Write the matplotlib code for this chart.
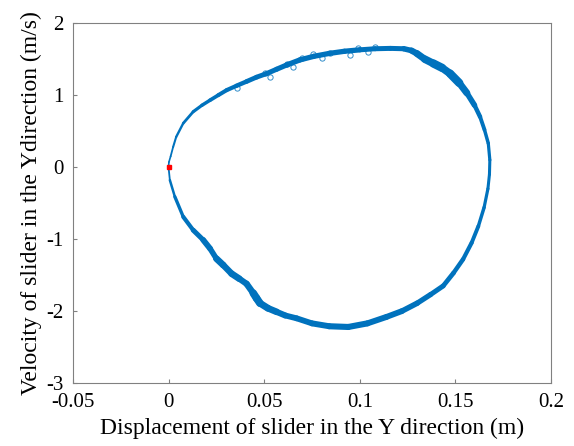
import numpy as np
import matplotlib.pyplot as plt
from matplotlib.collections import LineCollection

# Phase trajectory of the slider (Y displacement in m, Y velocity in m/s)
disp = [0.0, 0.0002, 0.0011, 0.0024, 0.0040, 0.0077, 0.0129, 0.0175, 0.0217, 0.0260,
        0.0304, 0.0355, 0.0408, 0.0460, 0.0513, 0.0565, 0.0618, 0.0687, 0.0760, 0.0840,
        0.0920, 0.1000, 0.1080, 0.1160, 0.1230, 0.1270, 0.1298, 0.1340, 0.1385, 0.1430,
        0.1472, 0.1520, 0.1560, 0.1600, 0.1629, 0.1652, 0.1672, 0.1680, 0.1678, 0.1670,
        0.1650, 0.1620, 0.1585, 0.1540, 0.1490, 0.1436, 0.1370, 0.1300, 0.1220, 0.1140,
        0.1040, 0.0940, 0.0840, 0.0750, 0.0670, 0.0610, 0.0565, 0.0520, 0.0478, 0.0460,
        0.0443, 0.0408, 0.0370, 0.0330, 0.0286, 0.0250, 0.0217, 0.0181, 0.0129, 0.0077,
        0.0033, 0.0007, 0.0]
vel = [0.0, 0.07, 0.15, 0.28, 0.42, 0.61, 0.77, 0.86, 0.93, 1.00,
       1.07, 1.13, 1.19, 1.25, 1.30, 1.36, 1.42, 1.49, 1.54, 1.58,
       1.61, 1.63, 1.645, 1.65, 1.645, 1.62, 1.58, 1.50, 1.44, 1.38,
       1.30, 1.17, 1.03, 0.86, 0.70, 0.52, 0.33, 0.10, -0.10, -0.30,
       -0.56, -0.82, -1.05, -1.28, -1.47, -1.65, -1.77, -1.89, -2.00, -2.08,
       -2.17, -2.22, -2.21, -2.17, -2.10, -2.06, -2.01, -1.96, -1.89, -1.82,
       -1.75, -1.62, -1.55, -1.48, -1.36, -1.27, -1.13, -1.01, -0.875, -0.69,
       -0.41, -0.18, 0.0]
# apparent band thickness of the trace along the loop (pt)
band = [1.2, 1.2, 1.3, 1.5, 1.7, 2.0, 2.3, 2.5, 2.7, 2.9,
        3.0, 3.2, 3.4, 3.5, 3.6, 3.7, 3.8, 3.8, 3.8, 3.8,
        3.8, 3.6, 3.6, 3.6, 4.0, 4.5, 5.0, 5.5, 6.0, 5.5,
        6.0, 5.0, 4.0, 3.2, 2.8, 2.5, 2.3, 2.2, 2.2, 2.3,
        2.5, 2.8, 3.0, 3.2, 3.4, 3.6, 3.8, 4.0, 4.2, 4.3,
        4.4, 4.4, 4.3, 4.2, 4.2, 4.4, 4.8, 5.0, 5.5, 5.5,
        4.6, 4.4, 4.8, 4.6, 4.8, 4.0, 4.2, 3.6, 3.0, 2.4,
        1.8, 1.3, 1.2]

# scattered open-circle samples near the top of the loop
out_x = [0.0358, 0.0505, 0.053, 0.062, 0.065, 0.070, 0.0756, 0.080,
         0.0845, 0.095, 0.099, 0.1045, 0.108]
out_y = [1.10, 1.31, 1.25, 1.44, 1.39, 1.51, 1.57, 1.51,
         1.58, 1.56, 1.65, 1.60, 1.67]

plt.rcParams['font.family'] = ['Liberation Serif', 'DejaVu Serif']
plt.rcParams['axes.unicode_minus'] = False

blue = '#0072BD'
fig = plt.figure(figsize=(5.74, 4.46), dpi=100)
ax = fig.add_axes([0.127, 0.141, 0.833, 0.807])

pts = np.column_stack((disp, vel)).reshape(-1, 1, 2)
segs = np.concatenate([pts[:-1], pts[1:]], axis=1)
lc = LineCollection(segs, linewidths=band[:-1], colors=blue,
                    capstyle='round', joinstyle='round')
ax.add_collection(lc)

ax.plot(out_x, out_y, 'o', mfc='none', mec=blue, ms=3.8, mew=0.7, alpha=0.8)
ax.plot([0], [0], 's', color='red', ms=3.5)

ax.set_xlim(-0.05, 0.2)
ax.set_ylim(-3, 2)
ax.set_xticks([-0.05, 0, 0.05, 0.1, 0.15, 0.2])
ax.set_xticklabels(['-0.05', '0', '0.05', '0.1', '0.15', '0.2'])
ax.set_yticks([-3, -2, -1, 0, 1, 2])
ax.tick_params(direction='in', length=3, color='#808080', labelsize=15, pad=7)
for s in ax.spines.values():
    s.set_color('#808080')

ax.set_xlabel('Displacement of slider in the Y direction (m)', fontsize=17, labelpad=4)
ax.set_ylabel('Velocity of slider in the Ydirection (m/s)', fontsize=17, labelpad=3)

fig.savefig('out.png', dpi=100)
